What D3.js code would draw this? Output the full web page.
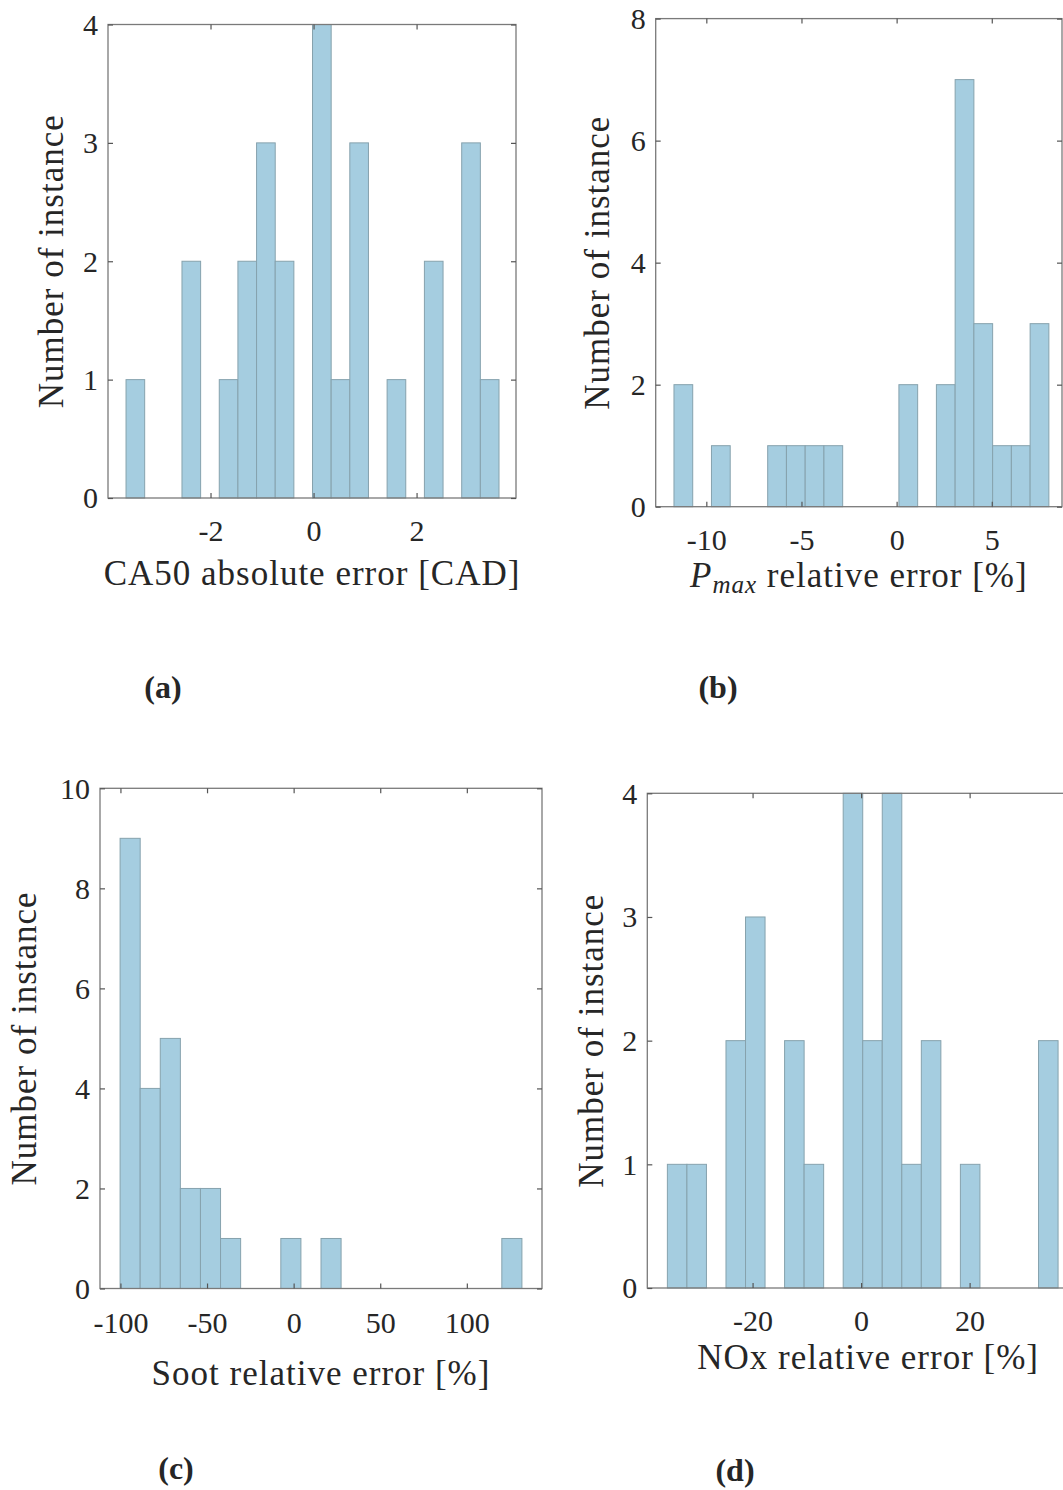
<!DOCTYPE html>
<html>
<head>
<meta charset="utf-8">
<script src="https://cdn.jsdelivr.net/npm/d3@7"></script>
<style>
  body { margin: 0; background: #fff; }
  svg { display: block; }
  text { font-family: "Liberation Serif", "Times New Roman", serif; fill: #262626; }
</style>
</head>
<body>
<svg id="chart" width="1063" height="1490"></svg>
<script>
// histogram bin edges and counts
const caEdges = [-3.64, -3.278, -2.916, -2.554, -2.192, -1.83, -1.468, -1.106, -0.744, -0.382, -0.02,
  0.342, 0.704, 1.066, 1.428, 1.79, 2.152, 2.514, 2.876, 3.238, 3.6];
const caCounts = [1, 0, 0, 2, 0, 1, 2, 3, 2, 0, 4, 1, 3, 0, 1, 0, 2, 0, 3, 1];

const pmaxEdges = [-11.7, -10.715, -9.73, -8.745, -7.76, -6.775, -5.79, -4.805, -3.82, -2.835, -1.85,
  -0.865, 0.12, 1.105, 2.09, 3.075, 4.06, 5.045, 6.03, 7.015, 8.0];
const pmaxCounts = [2, 0, 1, 0, 0, 1, 1, 1, 1, 0, 0, 0, 2, 0, 2, 7, 3, 1, 1, 3];

const sootEdges = [-100.2, -88.6, -77.0, -65.4, -53.8, -42.2, -30.6, -19.0, -7.4, 4.2, 15.8,
  27.4, 39.0, 50.6, 62.2, 73.8, 85.4, 97.0, 108.6, 120.2, 131.8];
const sootCounts = [9, 4, 5, 2, 2, 1, 0, 0, 1, 0, 1, 0, 0, 0, 0, 0, 0, 0, 0, 1];

const noxEdges = [-35.7, -32.1, -28.5, -24.9, -21.3, -17.7, -14.1, -10.5, -6.9, -3.3, 0.3,
  3.9, 7.5, 11.1, 14.7, 18.3, 21.9, 25.5, 29.1, 32.7, 36.3];
const noxCounts = [1, 1, 0, 2, 3, 0, 2, 1, 0, 4, 2, 4, 1, 2, 0, 1, 0, 0, 0, 2];

// axis limits and ticks
const caXLim = [-3.99, 3.93], caYLim = [0, 4];
const caXTicks = [-2, 0, 2], caYTicks = [0, 1, 2, 3, 4];
const pmaxXLim = [-12.66, 8.69], pmaxYLim = [0, 8];
const pmaxXTicks = [-10, -5, 0, 5], pmaxYTicks = [0, 2, 4, 6, 8];
const sootXLim = [-111.8, 143.4], sootYLim = [0, 10];
const sootXTicks = [-100, -50, 0, 50, 100], sootYTicks = [0, 2, 4, 6, 8, 10];
const noxXLim = [-39.4, 42], noxYLim = [0, 4];
const noxXTicks = [-20, 0, 20], noxYTicks = [0, 1, 2, 3, 4];

const yLabel = "Number of instance";

const svg = d3.select("#chart");

const panels = [
  { edges: caEdges, counts: caCounts, xlim: caXLim, ylim: caYLim, xt: caXTicks, yt: caYTicks,
    box: { l: 108, r: 516, t: 24.5, b: 498 }, ylx: 63, tickBase: 43, labBase: 87,
    xlabel: "CA50 absolute error [CAD]", tag: "(a)", tagX: 163, tagY: 698 },
  { edges: pmaxEdges, counts: pmaxCounts, xlim: pmaxXLim, ylim: pmaxYLim, xt: pmaxXTicks, yt: pmaxYTicks,
    box: { l: 655.7, r: 1062, t: 18.6, b: 506.7 }, ylx: 609, tickBase: 43, labBase: 80,
    xlabel: null, tag: "(b)", tagX: 718, tagY: 698 },
  { edges: sootEdges, counts: sootCounts, xlim: sootXLim, ylim: sootYLim, xt: sootXTicks, yt: sootYTicks,
    box: { l: 100, r: 542, t: 788.3, b: 1288.5 }, ylx: 36, tickBase: 44, labBase: 96,
    xlabel: "Soot relative error [%]", tag: "(c)", tagX: 176, tagY: 1479 },
  { edges: noxEdges, counts: noxCounts, xlim: noxXLim, ylim: noxYLim, xt: noxXTicks, yt: noxYTicks,
    box: { l: 647.3, r: 1089, t: 793.3, b: 1288 }, ylx: 603, tickBase: 43, labBase: 81,
    xlabel: "NOx relative error [%]", tag: "(d)", tagX: 735, tagY: 1481 }
];

panels.forEach(p => drawPanel(p));

function drawPanel(p) {
  const x = d3.scaleLinear().domain(p.xlim).range([p.box.l, p.box.r]);
  const y = d3.scaleLinear().domain(p.ylim).range([p.box.b, p.box.t]);
  const g = svg.append("g");

  const bins = p.counts.map((c, i) => ({ x0: p.edges[i], x1: p.edges[i + 1], n: c }))
    .filter(d => d.n > 0);

  g.selectAll("rect.bar")
    .data(bins)
    .enter().append("rect")
    .attr("class", "bar")
    .attr("x", d => x(d.x0))
    .attr("y", d => y(d.n))
    .attr("width", d => x(d.x1) - x(d.x0))
    .attr("height", d => y(0) - y(d.n))
    .attr("fill", "#a5cde0")
    .attr("stroke", "#86a2ad")
    .attr("stroke-width", 1);

  // box
  g.append("rect")
    .attr("x", p.box.l).attr("y", p.box.t)
    .attr("width", p.box.r - p.box.l).attr("height", p.box.b - p.box.t)
    .attr("fill", "none").attr("stroke", "#7a7a7a").attr("stroke-width", 1.3);

  const tk = 5;
  const xb = g.append("g").attr("transform", `translate(0,${p.box.b})`)
    .call(d3.axisBottom(x).tickValues(p.xt).tickSize(-tk).tickPadding(p.tickBase - 21).tickFormat(d3.format("d")));
  const xt = g.append("g").attr("transform", `translate(0,${p.box.t})`)
    .call(d3.axisTop(x).tickValues(p.xt).tickSize(-tk).tickFormat(""));
  const yl = g.append("g").attr("transform", `translate(${p.box.l},0)`)
    .call(d3.axisLeft(y).tickValues(p.yt).tickSize(-tk).tickPadding(10).tickFormat(d3.format("d")));
  const yr = g.append("g").attr("transform", `translate(${p.box.r},0)`)
    .call(d3.axisRight(y).tickValues(p.yt).tickSize(-tk).tickFormat(""));

  [xb, xt, yl, yr].forEach(a => {
    a.select(".domain").remove();
    a.selectAll(".tick line").attr("stroke", "#555").attr("stroke-width", 1.2);
    a.selectAll(".tick text")
      .style("font-family", "'Liberation Serif', serif")
      .style("font-size", "30px")
      .attr("fill", "#2b2b2b");
  });
  xb.selectAll(".tick text").text(d => d3.format("d")(d).replace("−", "-"));
  yl.selectAll(".tick text").attr("dy", "0.33em");

  // y label
  g.append("text")
    .attr("transform", `translate(${p.ylx},${(p.box.t + p.box.b) / 2}) rotate(-90)`)
    .attr("text-anchor", "middle")
    .style("font-size", "35px")
    .style("letter-spacing", "1px")
    .text(yLabel);

  // x label
  const xlab = g.append("text")
    .attr("x", (p.box.l + Math.min(p.box.r, 1089)) / 2)
    .attr("y", p.box.b + p.labBase)
    .attr("text-anchor", "middle")
    .style("font-size", "35px")
    .style("letter-spacing", "1px");
  if (p.xlabel) {
    xlab.text(p.xlabel);
  } else {
    xlab.append("tspan").style("font-style", "italic").text("P");
    xlab.append("tspan").style("font-style", "italic").style("font-size", "25px")
      .attr("dy", 6).text("max");
    xlab.append("tspan").attr("dy", -6).text(" relative error [%]");
  }

  // panel tag
  g.append("text")
    .attr("x", p.tagX).attr("y", p.tagY)
    .attr("text-anchor", "middle")
    .style("font-size", "32px")
    .style("font-weight", "bold")
    .attr("fill", "#111")
    .text(p.tag);
}
</script>
</body>
</html>
